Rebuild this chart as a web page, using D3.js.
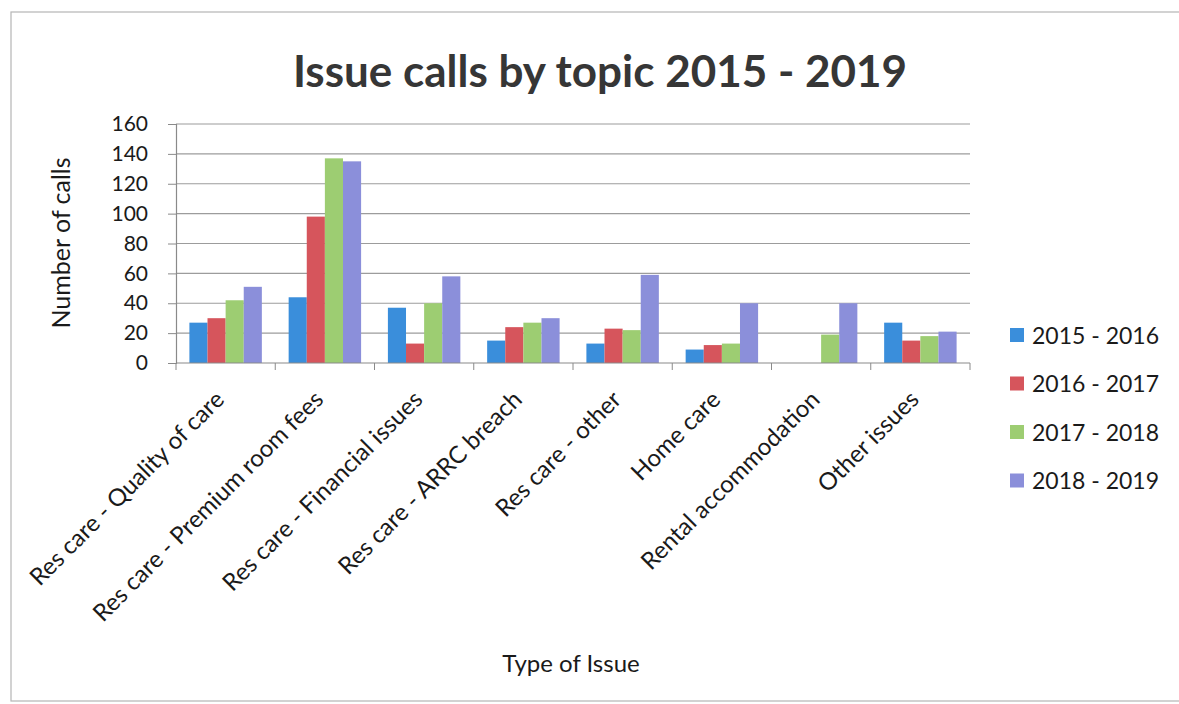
<!DOCTYPE html>
<html>
<head>
<meta charset="utf-8">
<script src="https://cdn.jsdelivr.net/npm/d3@7"></script>
<style>
  body { margin: 0; background: #fff; }
  svg text { font-family: Lato, "Open Sans", sans-serif; fill: #1a1a1a; }
</style>
</head>
<body>
<div id="chart"></div>
<script>
const categories = [
  "Res care - Quality of care",
  "Res care - Premium room fees",
  "Res care - Financial issues",
  "Res care - ARRC breach",
  "Res care - other",
  "Home care",
  "Rental accommodation",
  "Other issues",
];
const seriesNames = ["2015 - 2016", "2016 - 2017", "2017 - 2018", "2018 - 2019"];
const v2015 = [27, 44, 37, 15, 13, 9, 0, 27];
const v2016 = [30, 98, 13, 24, 23, 12, 0, 15];
const v2017 = [42, 137, 40, 27, 22, 13, 19, 18];
const v2018 = [51, 135, 58, 30, 59, 40, 40, 21];
const yTicks = [0, 20, 40, 60, 80, 100, 120, 140, 160];

const colors = ["#3a8edb", "#d6555c", "#9dcd72", "#8b8fda"];
const series = [v2015, v2016, v2017, v2018];

const W = 1179, H = 704;
const M = { t: 124, r: 209, b: 341, l: 176 };
const w = W - M.l - M.r, h = H - M.t - M.b;

const svg = d3.select("#chart").append("svg")
  .attr("width", W).attr("height", H);

// page frame
svg.append("rect")
  .attr("x", 11).attr("y", 12).attr("width", W).attr("height", 689)
  .attr("fill", "none").attr("stroke", "#b5b5b5").attr("stroke-width", 1.2);

svg.append("text")
  .attr("x", 600).attr("y", 87)
  .attr("text-anchor", "middle")
  .attr("font-size", "44px").attr("font-weight", "700")
  .style("fill", "#363636")
  .text("Issue calls by topic 2015 - 2019");

const g = svg.append("g").attr("transform", `translate(${M.l},${M.t})`);

const x0 = d3.scaleBand().domain(categories).range([0, w])
  .paddingInner(0.27).paddingOuter(0.135);
const x1 = d3.scaleBand().domain(seriesNames).range([0, x0.bandwidth()]);
const y = d3.scaleLinear().domain([0, 160]).range([h, 0]);

// gridlines
g.append("g").selectAll("line").data(yTicks.slice(1)).join("line")
  .attr("x1", 0).attr("x2", w)
  .attr("y1", d => y(d)).attr("y2", d => y(d))
  .attr("stroke", "#9c9c9c").attr("stroke-width", 1.2);

// bars
const data = categories.map((c, i) => ({
  cat: c,
  vals: seriesNames.map((s, j) => ({ s, v: series[j][i], c: colors[j] })),
}));

const grp = g.append("g").selectAll("g").data(data).join("g")
  .attr("transform", d => `translate(${x0(d.cat)},0)`);
grp.selectAll("rect").data(d => d.vals.filter(e => e.v > 0)).join("rect")
  .attr("x", d => x1(d.s))
  .attr("width", x1.bandwidth())
  .attr("y", d => y(d.v))
  .attr("height", d => h - y(d.v))
  .attr("fill", d => d.c);

// y axis
const ya = g.append("g")
  .call(d3.axisLeft(y).tickValues(yTicks).tickSize(8).tickPadding(20));
ya.select(".domain").attr("stroke", "#8a8a8a").attr("stroke-width", 1.2);
ya.selectAll(".tick line").attr("stroke", "#8a8a8a");
ya.selectAll("text").attr("font-size", "21px").style("font-family", "Lato, sans-serif").attr("fill", "#1a1a1a");

// x axis (ticks at category boundaries)
g.append("line")
  .attr("x1", 0).attr("x2", w).attr("y1", h).attr("y2", h)
  .attr("stroke", "#8a8a8a").attr("stroke-width", 1.2);
const step = x0.step();
g.append("g").selectAll("line").data(d3.range(categories.length + 1)).join("line")
  .attr("x1", i => i * step).attr("x2", i => i * step)
  .attr("y1", h).attr("y2", h + 7)
  .attr("stroke", "#8a8a8a");

g.append("g").selectAll("text").data(categories).join("text")
  .attr("transform", d => `translate(${x0(d) + x0.bandwidth() / 2},${h + 38}) rotate(-45)`)
  .attr("text-anchor", "end")
  .attr("font-size", "24px")
  .text(d => d);

// axis titles
svg.append("text")
  .attr("transform", `translate(70,243) rotate(-90)`)
  .attr("text-anchor", "middle").attr("font-size", "25px")
  .text("Number of calls");
svg.append("text")
  .attr("x", 571).attr("y", 672)
  .attr("text-anchor", "middle").attr("font-size", "24px")
  .text("Type of Issue");

// legend
const lg = svg.append("g").attr("transform", "translate(1010,335)");
const li = lg.selectAll("g").data(seriesNames).join("g")
  .attr("transform", (d, i) => `translate(0,${i * 48.5})`);
li.append("rect")
  .attr("x", 0).attr("y", -7).attr("width", 14).attr("height", 14)
  .attr("fill", (d, i) => colors[i]);
li.append("text")
  .attr("x", 22).attr("y", 8.5)
  .attr("font-size", "23px")
  .text(d => d);
</script>
</body>
</html>
